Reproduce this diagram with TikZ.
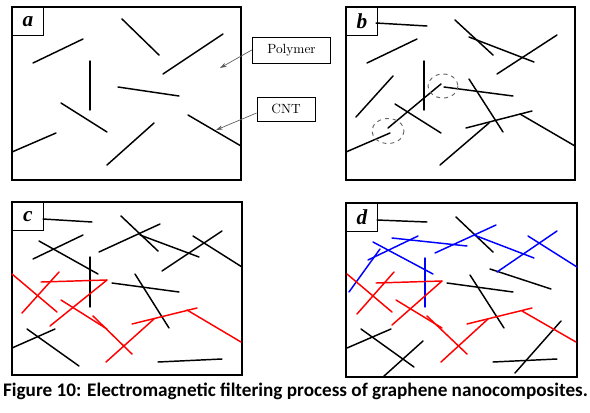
\documentclass[tikz,border=0pt]{standalone}
\usepackage{fontspec}
\newfontfamily\capfont{Carlito}
\newfontfamily\tagfont{Liberation Serif}
\usetikzlibrary{arrows.meta}

\tikzset{
  cnt/.style={line width=1.1pt, line cap=round},
  panel/.style={draw, line width=0.8pt},
  tag/.style={draw, line width=0.6pt, minimum width=23.25pt, minimum height=21pt,
    inner sep=0pt, anchor=north west, font=\tagfont\bfseries\itshape\fontsize{16}{16}\selectfont},
  callout/.style={draw, line width=0.6pt, inner sep=0pt, font=\fontsize{10}{12}\selectfont},
  pointer/.style={-{Stealth[length=5pt,width=3.2pt]}, black!65, line width=0.5pt},
  joint/.style={draw=black!60, dashed, line width=0.7pt}
}

\begin{document}
\begin{tikzpicture}[x=0.75pt,y=-0.75pt]

  \useasboundingbox (0,0) rectangle (590,412);

  %% Draw the four panels
  \draw[panel] (12,7) rectangle (241,180);
  \draw[panel] (346,7) rectangle (575,180);
  \draw[panel] (12,202) rectangle (242,375);
  \draw[panel] (346,203) rectangle (577,377);

  \node[tag] (taga) at (12,7) {a};
  \node[tag] (tagb) at (346,7) {b};
  \node[tag] (tagc) at (12,202) {c};
  \node[tag] (tagd) at (346,203) {d};

  %% Panel a: separate tubes
  \draw[cnt] (33,63) -- (83,39);
  \draw[cnt] (122,19) -- (159,55);
  \draw[cnt] (163,74) -- (223,34);
  \draw[cnt] (90,61) -- (90,110);
  \draw[cnt] (118,87) -- (179,96);
  \draw[cnt] (61,103) -- (107,132);
  \draw[cnt] (12,152) -- (56,133);
  \draw[cnt] (107,165) -- (154,123);
  \draw[cnt] (188,115) -- (241,146);

  %% Callouts
  \node[callout, minimum width=59pt, minimum height=19.5pt] (polymer) at (291.5,50) {Polymer};
  \node[callout, minimum width=43.5pt, minimum height=18pt] (tube) at (286,109) {CNT};
  \coordinate (matrix) at (220,68);
  \coordinate (onetube) at (216,130);
  \draw[pointer] (polymer.west) -- (matrix);
  \draw[pointer] ([yshift=-3pt]tube.west) -- (onetube);

  %% Panel b: tubes start to touch
  \draw[cnt] (376,23) -- (427,26);
  \draw[cnt] (455,20) -- (493,55);
  \draw[cnt] (469,37) -- (534,62);
  \draw[cnt] (497,74) -- (557,35);
  \draw[cnt] (367,63) -- (417,39);
  \draw[cnt] (424,61) -- (424,110);
  \draw[cnt] (356,117) -- (393,76);
  \draw[cnt] (388,128) -- (441,84);
  \draw[cnt] (395,104) -- (441,133);
  \draw[cnt] (346,152) -- (390,133);
  \draw[cnt] (444,87) -- (513,96);
  \draw[cnt] (469,79) -- (503,132);
  \draw[cnt] (466,128) -- (532,111);
  \draw[cnt] (440,165) -- (489,123);
  \draw[cnt] (520,114) -- (575,146);
  \draw[joint] (443,86) ellipse [x radius=15, y radius=12];
  \draw[joint] (388,131) ellipse [x radius=16, y radius=12.5];

  %% Panel c: black and red network
  \draw[cnt] (43,219) -- (92,222);
  \draw[cnt] (121,216) -- (158,251);
  \draw[cnt] (99,252) -- (160,224);
  \draw[cnt] (140,235) -- (199,257);
  \draw[cnt] (162,271) -- (222,231);
  \draw[cnt] (193,236) -- (242,267);
  \draw[cnt] (39,241) -- (98,274);
  \draw[cnt] (33,259) -- (83,235);
  \draw[cnt] (90,257) -- (90,307);
  \draw[cnt] (112,283) -- (179,292);
  \draw[cnt] (135,274) -- (169,328);
  \draw[cnt] (12,348) -- (55,329);
  \draw[cnt] (27,329) -- (79,366);
  \draw[cnt] (158,362) -- (222,359);

  \draw[cnt, red] (12,274) -- (57,312);
  \draw[cnt, red] (22,313) -- (59,272);
  \draw[cnt, red] (41,282) -- (107,280);
  \draw[cnt, red] (107,280) -- (50,326);
  \draw[cnt, red] (61,300) -- (107,329);
  \draw[cnt, red] (93,316) -- (132,354);
  \draw[cnt, red] (106,362) -- (154,319);
  \draw[cnt, red] (132,324) -- (197,308);
  \draw[cnt, red] (187,310) -- (241,342);

  %% Panel d: black, red and blue network
  \draw[cnt] (377,220) -- (427,222);
  \draw[cnt] (456,217) -- (493,252);
  \draw[cnt] (490,269) -- (551,289);
  \draw[cnt] (447,283) -- (513,292);
  \draw[cnt] (470,275) -- (504,328);
  \draw[cnt] (347,348) -- (391,329);
  \draw[cnt] (361,329) -- (414,367);
  \draw[cnt] (383,377) -- (423,341);
  \draw[cnt] (493,362) -- (557,359);
  \draw[cnt] (515,373) -- (561,321);

  \draw[cnt, blue] (392,238) -- (467,246);
  \draw[cnt, blue] (373,242) -- (433,274);
  \draw[cnt, blue] (368,260) -- (418,236);
  \draw[cnt, blue] (349,292) -- (380,249);
  \draw[cnt, blue] (425,258) -- (425,307);
  \draw[cnt, blue] (435,253) -- (496,225);
  \draw[cnt, blue] (474,235) -- (534,258);
  \draw[cnt, blue] (497,272) -- (557,231);
  \draw[cnt, blue] (528,236) -- (577,267);

  \draw[cnt, red] (347,274) -- (392,312);
  \draw[cnt, red] (357,314) -- (394,272);
  \draw[cnt, red] (376,283) -- (442,281);
  \draw[cnt, red] (442,281) -- (392,325);
  \draw[cnt, red] (396,300) -- (442,328);
  \draw[cnt, red] (427,316) -- (467,354);
  \draw[cnt, red] (441,362) -- (488,319);
  \draw[cnt, red] (467,324) -- (532,308);
  \draw[cnt, red] (522,311) -- (576,342);

  %% Caption
  \node (caption) at (295.5,391) {\capfont\bfseries\fontsize{14.4}{16}\selectfont Figure 10: Electromagnetic filtering process of graphene nanocomposites.};

\end{tikzpicture}
\end{document}
